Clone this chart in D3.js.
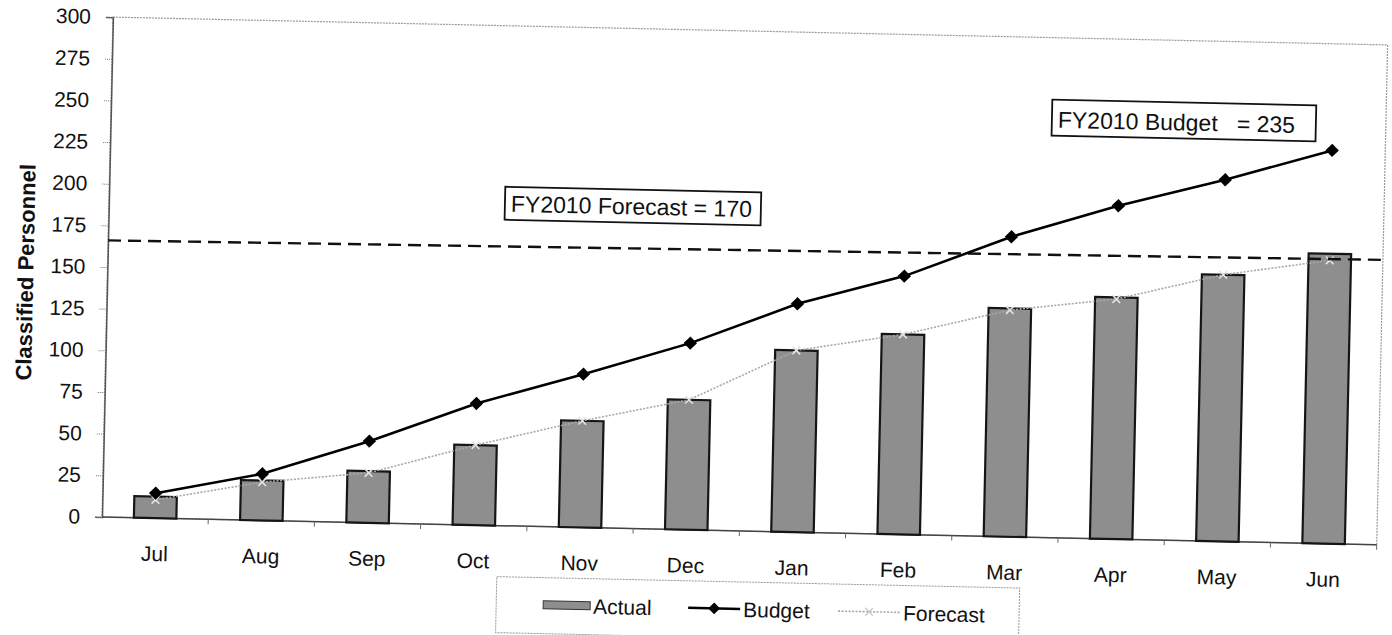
<!DOCTYPE html>
<html><head><meta charset="utf-8">
<script src="https://cdn.jsdelivr.net/npm/d3@7"></script>
<style>
body{margin:0;background:#fff;}
svg text{font-family:"Liberation Sans",Arial,sans-serif;fill:#111;}
</style>
</head><body>
<svg id="chart" width="1392" height="635"></svg>
<script>
// ---- data ----
const months   = ["Jul","Aug","Sep","Oct","Nov","Dec","Jan","Feb","Mar","Apr","May","Jun"];
const actual   = [13, 24, 31, 48, 64, 78, 109, 120, 137, 145, 160, 174];
const budget   = [15, 28, 49, 73, 92, 112, 137, 155, 180, 200, 217, 236];
const forecast = [11, 23, 30, 48, 64, 78, 109, 120, 136, 144, 160, 170];
const yTicks   = [0, 25, 50, 75, 100, 125, 150, 175, 200, 225, 250, 275, 300];
const forecastTargetLine = [166, 171];   // drawn dashed target line, start / end value
const legendLabels = ["Actual", "Budget", "Forecast"];
const noteTexts = ["FY2010 Forecast = 170", "FY2010 Budget   = 235"];
const yTitle = "Classified Personnel";

// ---- layout ----
const W = 1275, H = 500, mLeft = 102, mTop = 17, tilt = 1.25;
const svg = d3.select("#chart");
const g = svg.append("g")
  .attr("transform", `rotate(${tilt},${mLeft},${mTop + H}) translate(${mLeft},${mTop})`);

const x = d3.scaleBand().domain(months).range([0, W]).paddingInner(0.6).paddingOuter(0.3);
const y = d3.scaleLinear().domain([0, 300]).range([H, 0]);
const cx = m => x(m) + x.bandwidth() / 2;

// plot border
g.append("rect").attr("x", 0).attr("y", 0).attr("width", W).attr("height", H)
  .attr("fill", "none").attr("stroke", "#9a9a9a").attr("stroke-width", 1.2)
  .attr("stroke-dasharray", "2,1");

// y axis
const yAxis = g.append("g").call(d3.axisLeft(y).tickValues(yTicks).tickSize(7).tickPadding(15));
yAxis.select(".domain").attr("stroke", "#555").attr("stroke-width", 1.5);
yAxis.selectAll(".tick line").attr("stroke", "#777").attr("stroke-dasharray", "1,1");
yAxis.selectAll(".tick text").style("font-size", "21px").attr("fill", "#111");

// x axis line + boundary ticks
g.append("line").attr("x1", 0).attr("x2", W).attr("y1", H).attr("y2", H)
  .attr("stroke", "#444").attr("stroke-width", 1.5);
g.selectAll(".xb").data(months).enter().append("line")
  .attr("x1", (d, i) => x.step() * (i + 1)).attr("x2", (d, i) => x.step() * (i + 1))
  .attr("y1", H).attr("y2", H + 5).attr("stroke", "#666").attr("stroke-width", 1);
g.selectAll(".xl").data(months).enter().append("text")
  .attr("x", d => cx(d)).attr("y", H + 43).attr("text-anchor", "middle")
  .style("font-size", "21px").text(d => d);

// y title
g.append("text").attr("transform", `translate(${28 - mLeft},${274 - mTop}) rotate(-90)`)
  .attr("text-anchor", "middle").style("font-size", "22px").style("font-weight", "bold")
  .text(yTitle);

// bars
g.selectAll(".bar").data(actual).enter().append("rect")
  .attr("x", (d, i) => x(months[i])).attr("width", x.bandwidth())
  .attr("y", d => y(d)).attr("height", d => H - y(d))
  .attr("fill", "#8e8e8e").attr("stroke", "#151515").attr("stroke-width", 2.2);

// forecast line
const line = d3.line().x((d, i) => cx(months[i])).y(d => y(d));
g.append("path").datum(forecast).attr("d", line).attr("fill", "none")
  .attr("stroke", "#a8a8a8").attr("stroke-width", 1.6).attr("stroke-dasharray", "2,1.5");
g.selectAll(".fm").data(forecast).enter().append("path")
  .attr("transform", (d, i) => `translate(${cx(months[i])},${y(d)})`)
  .attr("d", d3.symbol(d3.symbolX, 40)).attr("fill", "none")
  .attr("stroke", "#e4e4e4").attr("stroke-width", 1.6);

// dashed target line
g.append("line").attr("x1", 0).attr("x2", W)
  .attr("y1", y(forecastTargetLine[0])).attr("y2", y(forecastTargetLine[1]))
  .attr("stroke", "#111").attr("stroke-width", 2.4).attr("stroke-dasharray", "13,7");

// budget line
g.append("path").datum(budget).attr("d", line).attr("fill", "none")
  .attr("stroke", "#000").attr("stroke-width", 2.6);
g.selectAll(".bm").data(budget).enter().append("path")
  .attr("transform", (d, i) => `translate(${cx(months[i])},${y(d)}) rotate(45)`)
  .attr("d", d3.symbol(d3.symbolSquare, 90)).attr("fill", "#000");

// annotation boxes
const notePos = [{x: 396, y: 161, w: 256, h: 33}, {x: 941, y: 62, w: 264, h: 36}];
noteTexts.forEach((t, i) => {
  const p = notePos[i];
  g.append("rect").attr("x", p.x).attr("y", p.y).attr("width", p.w).attr("height", p.h)
    .attr("fill", "#fff").attr("stroke", "#111").attr("stroke-width", 1.8);
  g.append("text").attr("x", p.x + 6).attr("y", p.y + p.h - 8)
    .style("font-size", "23px").style("white-space", "pre").text(t);
});

// legend
const lg = g.append("g").attr("transform", "translate(396,551)");
lg.append("rect").attr("width", 523).attr("height", 56).attr("fill", "#fff")
  .attr("stroke", "#999").attr("stroke-width", 1).attr("stroke-dasharray", "2,1");
const ly = 27, lt = 35;
lg.append("rect").attr("x", 47).attr("y", ly - 4).attr("width", 47).attr("height", 8)
  .attr("fill", "#8e8e8e").attr("stroke", "#333").attr("stroke-width", 1);
lg.append("text").attr("x", 97).attr("y", lt).style("font-size", "21px").text(legendLabels[0]);
lg.append("line").attr("x1", 192).attr("x2", 244).attr("y1", ly).attr("y2", ly)
  .attr("stroke", "#000").attr("stroke-width", 2.4);
lg.append("path").attr("transform", `translate(218,${ly}) rotate(45)`)
  .attr("d", d3.symbol(d3.symbolSquare, 70)).attr("fill", "#000");
lg.append("text").attr("x", 247).attr("y", lt).style("font-size", "21px").text(legendLabels[1]);
lg.append("line").attr("x1", 342).attr("x2", 404).attr("y1", ly).attr("y2", ly)
  .attr("stroke", "#a8a8a8").attr("stroke-width", 1.6).attr("stroke-dasharray", "2,1.5");
lg.append("path").attr("transform", `translate(373,${ly})`)
  .attr("d", d3.symbol(d3.symbolX, 40)).attr("fill", "none").attr("stroke", "#ccc").attr("stroke-width", 1.4);
lg.append("text").attr("x", 407).attr("y", lt).style("font-size", "21px").text(legendLabels[2]);
</script>
</body></html>
